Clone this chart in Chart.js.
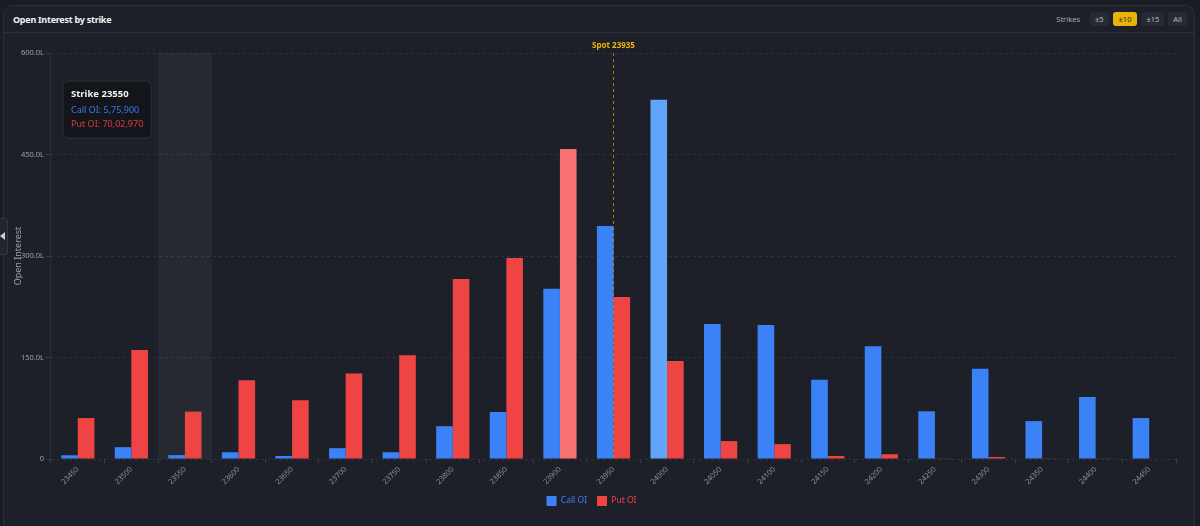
<!DOCTYPE html>
<html>
<head>
<meta charset="utf-8">
<script src="https://cdn.jsdelivr.net/npm/chart.js@4.4.1/dist/chart.umd.min.js"></script>
<style>
  html, body { margin: 0; padding: 0; }
  body { width: 1200px; height: 526px; background: #1a1c23; overflow: hidden; font-family: "Noto Sans", "Open Sans", sans-serif; position: relative; }
  .card { position: absolute; left: 3px; top: 5px; width: 1190px; height: 540px; background: #1e2029; border: 1px solid #2c303b; border-radius: 10px; }
  .head { position: absolute; left: 0; top: 0; right: 0; height: 26px; border-bottom: 1px solid #2c303b; }
  .title { position: absolute; left: 9px; top: 7px; color: #f1f3f6; font-size: 9px; font-weight: 700; letter-spacing: -0.25px; }
  .ctrl { position: absolute; right: 7px; top: 6px; display: flex; align-items: center; font-size: 7.5px; color: #a2a8b4; }
  .ctrl span.lbl { margin-right: 6px; }
  .ctrl .btn { height: 14px; line-height: 14px; padding: 0 5px; margin-left: 4px; border-radius: 3px; background: #262a33; color: #b8bec9; }
  .ctrl .btn.on { background: #eab308; color: #1a1c23; padding: 0 6px; }
  .tab { position: absolute; left: -1px; top: 218px; width: 8px; height: 35px; background: #22252e; border: 1px solid #343844; border-left: none; border-radius: 0 4px 4px 0; }
  .tab:after { content: ""; position: absolute; left: 1px; top: 13px; border-right: 5px solid #c9ced6; border-top: 4px solid transparent; border-bottom: 4px solid transparent; }
  #wrap { position: absolute; left: 4px; top: 33px; width: 1190px; height: 493px; }
</style>
</head>
<body>
<div class="card">
  <div class="head">
    <div class="title">Open Interest by strike</div>
    <div class="ctrl">
      <span class="lbl">Strikes</span>
      <span class="btn">±5</span>
      <span class="btn on">±10</span>
      <span class="btn">±15</span>
      <span class="btn">All</span>
    </div>
  </div>
</div>
<div class="tab"></div>
<div id="wrap"><canvas id="oiChart"></canvas></div>
<script>
// open interest per strike, in lakhs
const strikes = ["23450", "23500", "23550", "23600", "23650", "23700", "23750", "23800", "23850", "23900",
  "23950", "24000", "24050", "24100", "24150", "24200", "24250", "24300", "24350", "24400", "24450"];
const callOI = [5.5, 17.5, 5.759, 10, 4.5, 16, 10, 48.5, 69.5, 251.5,
  344.5, 531, 199.5, 198, 117, 166.5, 70.5, 133.5, 56, 91.5, 60.5];
const putOI = [60.5, 161, 70.0297, 116.5, 87, 126.5, 153.5, 266, 297, 458,
  239.5, 145, 26.5, 22, 4.5, 7, 1, 3, 0.5, 0.5, 0];
const yTicks = [0, 150, 300, 450, 600];
const spot = 23935;
const spotStrike = "23950";
const hoverIndex = 2;

const CALL = "#3b82f6", CALL_HI = "#60a5fa";
const PUT = "#ef4444", PUT_HI = "#f87171";
const FONT = '"Noto Sans", "Open Sans", sans-serif';

const maxCall = Math.max(...callOI);
const maxPut = Math.max(...putOI);

function inr(v) {
  return Math.round(v * 100000).toLocaleString("en-IN");
}

Chart.Tooltip.positioners.fixedTopLeft = function () {
  const a = this.chart.chartArea;
  return { x: a.left + 18, y: a.top + 28 };
};

// hovered strike column + solid y axis line
const hoverColumn = {
  id: "hoverColumn",
  beforeDatasetsDraw(chart) {
    const { ctx, chartArea } = chart;
    const x = chart.scales.x;
    const w = x.width / strikes.length;
    const cx = x.getPixelForValue(hoverIndex);
    ctx.save();
    ctx.fillStyle = "rgba(255,255,255,0.045)";
    ctx.fillRect(cx - w / 2, chartArea.top, w, chartArea.bottom - chartArea.top);
    ctx.strokeStyle = "#2a2e38";
    ctx.lineWidth = 1;
    ctx.beginPath();
    ctx.moveTo(chartArea.left - 0.5, chartArea.top);
    ctx.lineTo(chartArea.left - 0.5, chartArea.bottom);
    ctx.stroke();
    ctx.restore();
  }
};

const spotLine = {
  id: "spotLine",
  afterDatasetsDraw(chart) {
    const { ctx, chartArea } = chart;
    const px = Math.round(chart.scales.x.getPixelForValue(strikes.indexOf(spotStrike))) - 0.5;
    ctx.save();
    ctx.strokeStyle = "rgba(202,138,4,0.85)";
    ctx.lineWidth = 1;
    ctx.setLineDash([3, 3]);
    ctx.beginPath();
    ctx.moveTo(px, chartArea.top);
    ctx.lineTo(px, chartArea.bottom);
    ctx.stroke();
    ctx.setLineDash([]);
    ctx.fillStyle = "#eab308";
    ctx.font = "bold 8px " + FONT;
    ctx.textAlign = "center";
    ctx.textBaseline = "bottom";
    ctx.fillText("Spot " + spot, px, chartArea.top - 3);
    ctx.restore();
  }
};

const chart = new Chart(document.getElementById("oiChart"), {
  type: "bar",
  data: {
    labels: strikes,
    datasets: [
      {
        label: "Call OI",
        data: callOI,
        backgroundColor: callOI.map(v => v === maxCall ? CALL_HI : CALL),
        borderWidth: 0,
        categoryPercentage: 0.62,
        barPercentage: 1
      },
      {
        label: "Put OI",
        data: putOI,
        backgroundColor: putOI.map(v => v === maxPut ? PUT_HI : PUT),
        borderWidth: 0,
        categoryPercentage: 0.62,
        barPercentage: 1
      }
    ]
  },
  options: {
    responsive: true,
    maintainAspectRatio: false,
    animation: false,
    events: [],
    layout: { padding: { left: 3, right: 18, top: 20, bottom: 10 } },
    scales: {
      x: {
        afterFit(scale) { scale.height = 27; },
        grid: { color: "transparent", tickColor: "#3a3f4b", tickLength: 4 },
        border: { display: false },
        ticks: {
          color: "#8a919e",
          font: { family: FONT, size: 7.5 },
          minRotation: 45,
          maxRotation: 45,
          padding: 2
        }
      },
      y: {
        min: 0,
        max: 600,
        afterFit(scale) { scale.width = 44; },
        afterBuildTicks(scale) { scale.ticks = yTicks.map(v => ({ value: v })); },
        grid: { color: "#2e323d", tickColor: "#3a3f4b", tickLength: 5, drawTicks: true },
        border: { display: false, dash: [3, 3] },
        ticks: {
          color: "#9aa1ad",
          font: { family: FONT, size: 7.5 },
          padding: 2,
          callback: v => v === 0 ? "0" : v.toFixed(1) + "L"
        },
        title: {
          display: true,
          text: "Open Interest",
          color: "#9aa1ad",
          font: { family: FONT, size: 9 },
          padding: { top: 6, bottom: 0 }
        }
      }
    },
    plugins: {
      legend: {
        position: "bottom",
        labels: {
          boxWidth: 10,
          boxHeight: 10,
          padding: 10,
          font: { family: FONT, size: 8.5 },
          generateLabels(c) {
            return c.data.datasets.map((ds, i) => ({
              text: ds.label,
              fillStyle: i === 0 ? CALL : PUT,
              strokeStyle: i === 0 ? CALL : PUT,
              lineWidth: 0,
              fontColor: i === 0 ? CALL : PUT,
              datasetIndex: i,
              hidden: false
            }));
          }
        }
      },
      tooltip: {
        position: "fixedTopLeft",
        xAlign: "left",
        yAlign: "top",
        caretSize: 0,
        caretPadding: 0,
        backgroundColor: "#13151a",
        borderColor: "#2c303b",
        borderWidth: 1,
        cornerRadius: 6,
        padding: { left: 8, right: 8, top: 8, bottom: 8 },
        displayColors: false,
        titleColor: "#f1f3f6",
        titleFont: { family: FONT, size: 9.5, weight: "bold" },
        titleMarginBottom: 5,
        bodyFont: { family: FONT, size: 9 },
        bodySpacing: 3,
        callbacks: {
          title: items => "Strike " + strikes[items[0].dataIndex],
          label: ctx => ctx.dataset.label + ": " + inr(ctx.raw),
          labelTextColor: ctx => ctx.datasetIndex === 0 ? "#3b7be6" : "#dc3d3d"
        }
      }
    }
  },
  plugins: [hoverColumn, spotLine]
});

chart.tooltip.setActiveElements(
  [{ datasetIndex: 0, index: hoverIndex }, { datasetIndex: 1, index: hoverIndex }],
  { x: 0, y: 0 }
);
chart.update();
</script>
</body>
</html>
